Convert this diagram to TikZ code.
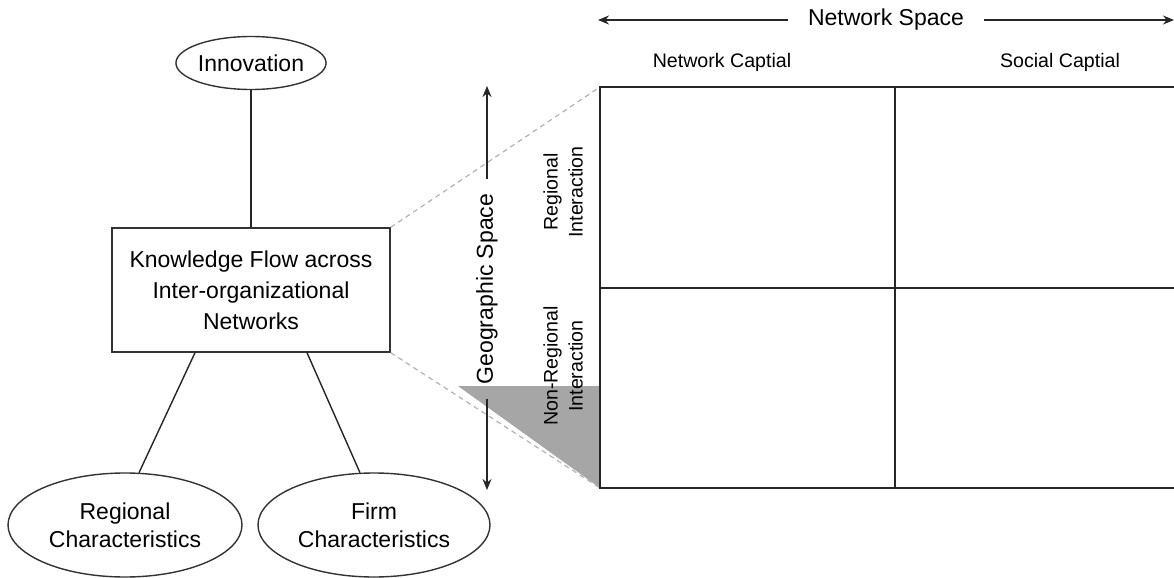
\documentclass[tikz,border=0pt]{standalone}
\usepackage{fontspec}
\setmainfont{Liberation Sans}
\usetikzlibrary{shapes.geometric,calc,arrows.meta}
\tikzset{
  oval/.style={draw=black!80,line width=0.7pt,ellipse,inner sep=0pt,align=center,
    font=\fontsize{11.5}{14}\selectfont},
  flowbox/.style={draw=black!80,line width=0.7pt,align=center,inner sep=0pt,
    minimum width=139pt,minimum height=62pt,font=\fontsize{11.5}{15.5}\selectfont},
  link/.style={draw=black!85,line width=0.7pt},
  zoomline/.style={draw=black!30,dashed,dash pattern=on 2.5pt off 2pt,line width=0.6pt},
  axis/.style={draw=black!85,line width=0.8pt,-{Stealth[length=5.5pt,width=4.5pt]}},
  big/.style={font=\fontsize{11.5}{14}\selectfont},
  small/.style={font=\fontsize{9.8}{12.5}\selectfont,align=center}
}
\begin{document}
\begin{tikzpicture}[x=0.5pt,y=-0.5pt]
    \useasboundingbox (0,0) rectangle (1174,578);
    \node[oval,minimum width=55pt,minimum height=26.5pt] (innov) at (251,63) {Innovation};
    \node[flowbox] (kf) at (251,290) {Knowledge Flow across\\Inter-organizational\\Networks};
    \node[oval,minimum width=117pt,minimum height=52pt] (regchar) at (125,525) {Regional\\Characteristics};
    \node[oval,minimum width=116pt,minimum height=52pt] (firmchar) at (374,525) {Firm\\Characteristics};
    \draw[link] (innov) -- (kf);
    \draw[link] ($(kf.south)+(-56,0)$) -- (regchar.75);
    \draw[link] ($(kf.south)+(56,0)$) -- (firmchar.105);
    % the two by two grid
    \coordinate (gtl) at (600,87);
    \coordinate (gbl) at (600,488);
    \fill[black!35] (458,386) -- (600,386) -- (gbl) -- cycle;
    \draw[zoomline] (kf.north east) -- (gtl);
    \draw[zoomline] (kf.south east) -- (gbl);
    \draw[link] (gtl) rectangle (1176,488);
    \draw[link] (895,87) -- (895,488);
    \draw[link] (600,288) -- (1176,288);
    % axes
    \node[big,rotate=90,inner sep=7pt] (geo) at (487,289) {Geographic Space};
    \coordinate (geotop) at (487,86);
    \coordinate (geobot) at (487,490);
    \draw[axis] (geo.east) -- (geotop);
    \draw[axis] (geo.west) -- (geobot);
    \node[big,inner sep=10pt] (net) at (886,20) {Network Space};
    \coordinate (netleft) at (598,20);
    \coordinate (netright) at (1174,20);
    \draw[axis] (net.west) -- (netleft);
    \draw[axis] (net.east) -- (netright);
    \node[small] (netcap) at (722,62) {Network Captial};
    \node[small] (soccap) at (1060,62) {Social Captial};
    \node[small,rotate=90] (regint) at (563,192) {Regional\\Interaction};
    \node[small,rotate=90] (nonregint) at (563,366) {Non-Regional\\Interaction};
\end{tikzpicture}
\end{document}
